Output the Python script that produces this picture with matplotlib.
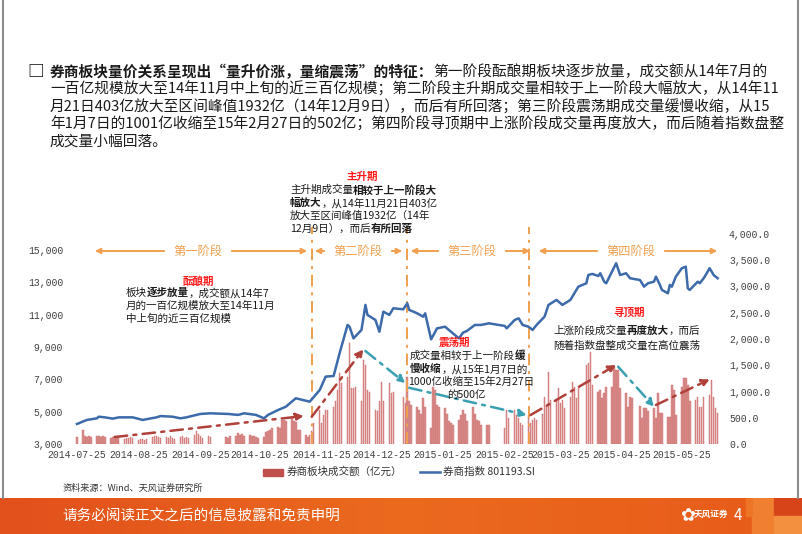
import matplotlib
matplotlib.use('Agg')
import matplotlib.pyplot as plt
import matplotlib.dates as mdates
import numpy as np
import pandas as pd
from matplotlib.patches import Rectangle, FancyArrowPatch
from matplotlib.lines import Line2D
from matplotlib.colors import LinearSegmentedColormap

# ---------------- data ----------------
holidays = ['2014-10-01', '2014-10-02', '2014-10-03', '2014-10-06', '2014-10-07',
            '2015-01-01', '2015-01-02',
            '2015-02-18', '2015-02-19', '2015-02-20', '2015-02-23', '2015-02-24',
            '2015-04-06', '2015-05-01']
trade_start, trade_end = '2014-07-25', '2015-06-12'

# 券商板块成交额（亿元）, one value per trading day (week by week)
volume = [140,
          270, 150, 140, 150, 130,
          150, 160, 130, 150, 140,
          120, 140, 150, 130, 150,
          100, 120, 110, 130, 110,
          80, 90, 100, 80, 90,
          130, 150, 160, 140, 120,
          130, 120, 150, 110, 100,
          130, 150, 120, 140, 110,
          180, 240, 200, 150, 120,
          150, 140,
          130, 120, 150,
          160, 210, 180, 200, 150,
          170, 150, 160, 140, 120,
          140, 230, 250, 260, 300,
          330, 300, 460, 450, 430,
          520, 430, 420, 270, 270,
          170, 140, 170, 250, 403,
          650, 400, 550, 650, 650,
          710, 810, 1030, 1350, 1160,
          1280, 1932, 1060, 1060, 1090,
          810, 1600, 1500, 1030, 1000,
          650, 620, 810, 1190, 810,
          1160, 970, 1000,
          900, 780, 1280, 810, 740,
          710, 650, 580, 870, 710,
          300, 1090, 1030, 740, 710,
          680, 580, 430, 400, 360,
          460, 550, 650, 580, 430,
          710, 580, 460, 430, 360,
          360, 370,
          300, 650, 502,
          650, 550, 490, 400, 360,
          550, 400, 460, 490, 460,
          580, 900, 720, 1380, 840,
          810, 1060, 775, 840, 680,
          900, 1190, 1090, 870, 1060,
          1505, 1537, 1759, 1120,
          1000, 1030, 870, 965, 1090,
          1090, 1473, 1410, 1410, 1060,
          965, 711, 900, 870,
          720, 490, 680, 680, 620,
          680, 490, 965, 584, 584,
          521, 521, 1120, 1030, 550,
          1090, 1250, 1250, 1120, 810,
          840, 900, 710, 710, 900,
          930, 1220, 900, 680, 600]

# 券商指数 801193.SI
index_dates = ['2014-07-25', '2014-07-30', '2014-08-04', '2014-08-05', '2014-08-08', '2014-08-12',
               '2014-08-15', '2014-08-22', '2014-08-27', '2014-09-03', '2014-09-05', '2014-09-11',
               '2014-09-15', '2014-09-18', '2014-09-23', '2014-09-25', '2014-09-30', '2014-10-09',
               '2014-10-14', '2014-10-17', '2014-10-23', '2014-10-27', '2014-10-29', '2014-11-03',
               '2014-11-07', '2014-11-12', '2014-11-19', '2014-11-24', '2014-11-27', '2014-12-01',
               '2014-12-04', '2014-12-08', '2014-12-09', '2014-12-11', '2014-12-15', '2014-12-17',
               '2014-12-18', '2014-12-22', '2014-12-24', '2014-12-26', '2014-12-29', '2014-12-31',
               '2015-01-05', '2015-01-07', '2015-01-08', '2015-01-12', '2015-01-15', '2015-01-16',
               '2015-01-19', '2015-01-22', '2015-01-26', '2015-01-29', '2015-02-02', '2015-02-04',
               '2015-02-06', '2015-02-10', '2015-02-13', '2015-02-17', '2015-02-25', '2015-02-26',
               '2015-03-02', '2015-03-04', '2015-03-06', '2015-03-09', '2015-03-11', '2015-03-13',
               '2015-03-17', '2015-03-19', '2015-03-23', '2015-03-26', '2015-03-30', '2015-04-01',
               '2015-04-03', '2015-04-07', '2015-04-08', '2015-04-10', '2015-04-13', '2015-04-14',
               '2015-04-16', '2015-04-17', '2015-04-22', '2015-04-24', '2015-04-27', '2015-04-29',
               '2015-05-04', '2015-05-06', '2015-05-08', '2015-05-11', '2015-05-12', '2015-05-14',
               '2015-05-15', '2015-05-18', '2015-05-19', '2015-05-20', '2015-05-22', '2015-05-25',
               '2015-05-27', '2015-05-28', '2015-05-29', '2015-06-02', '2015-06-03', '2015-06-05',
               '2015-06-08', '2015-06-10', '2015-06-12']
index_values = [4240, 4490, 4590, 4690, 4650, 4570,
                4650, 4650, 4490, 4650, 4730, 4690,
                4590, 4650, 4800, 4860, 4900, 4860,
                4800, 4900, 4800, 4590, 4800, 5100,
                5310, 5830, 5620, 6340, 7170, 7210,
                8620, 10370, 10260, 9540, 10060, 11610,
                10990, 10680, 9950, 11190, 10990, 11400,
                11340, 11710, 11300, 11090, 10880, 11090,
                9480, 10160, 10260, 9950, 9540, 9890,
                10000, 10370, 10370, 10470, 10310, 10160,
                10680, 10780, 10370, 10260, 10060, 10370,
                10880, 11610, 11920, 11610, 11920, 12330,
                12740, 12950, 13460, 13530, 13400, 13570,
                13050, 12950, 14190, 13460, 13570, 13260,
                13150, 12740, 12950, 13050, 13360, 12850,
                12540, 12330, 12850, 12740, 13360, 13880,
                13980, 12640, 12540, 13050, 12950, 13260,
                13880, 13460, 13260]

x_tick_dates = ['2014-07-25', '2014-08-25', '2014-09-25', '2014-10-25', '2014-11-25', '2014-12-25',
                '2015-01-25', '2015-02-25', '2015-03-25', '2015-04-25', '2015-05-25']
left_ticks = [3000, 5000, 7000, 9000, 11000, 13000, 15000]
right_ticks = [0, 500, 1000, 1500, 2000, 2500, 3000, 3500, 4000]
phase_names = ['第一阶段', '第二阶段', '第三阶段', '第四阶段']
phase_bounds = ['2014-11-20', '2015-01-07', '2015-03-09']

# ---------------- figure ----------------
W, H = 802, 534
CJK = ['Noto Sans CJK SC', 'DejaVu Sans']
plt.rcParams['font.family'] = CJK
fig = plt.figure(figsize=(W / 100, H / 100), dpi=100)


def fx(x):
    return x / W


def fy(y):
    return 1 - y / H


# slide frame
fig.add_artist(Line2D([fx(3), fx(3)], [fy(0), fy(498)], color='#8c8c8c', lw=1.5))
fig.add_artist(Line2D([fx(798), fx(798)], [fy(0), fy(498)], color='#8c8c8c', lw=1.5))

trade_days = pd.bdate_range(trade_start, trade_end)
trade_days = trade_days[~trade_days.isin(pd.to_datetime(holidays))]
tx = mdates.date2num(trade_days)
ix = mdates.date2num(pd.to_datetime(index_dates))
d0 = mdates.date2num(pd.Timestamp('2014-07-25'))

ax = fig.add_axes([fx(70), fy(444), fx(722) - fx(70), fy(234) - fy(444)])
ax2 = ax.twinx()

ax.bar(tx, volume, width=0.75, color='#DA8E8C', edgecolor='#CB6E6C', linewidth=0.3, zorder=2)
ax2.plot(ix, index_values, color='#3C6AAA', lw=1.8, zorder=3)

ax.set_xlim(d0 - 3.5, d0 + 324.2)
ax.set_ylim(0, 4000)
ax2.set_ylim(3000, 16000)
ax.yaxis.tick_right()
ax2.yaxis.tick_left()
ax.set_yticks(right_ticks)
ax.set_yticklabels([f'{v:,.1f}' for v in right_ticks])
ax2.set_yticks(left_ticks)
ax2.set_yticklabels([f'{v:,.0f}' for v in left_ticks])
ax.set_xticks(mdates.date2num(pd.to_datetime(x_tick_dates)))
ax.set_xticklabels(x_tick_dates)
mono = ['Liberation Mono', 'DejaVu Sans Mono']
for a in (ax, ax2):
    for s in a.spines.values():
        s.set_visible(False)
    a.tick_params(length=0, labelsize=7, colors='#404040', pad=5)
    for lab in a.get_xticklabels() + a.get_yticklabels():
        lab.set_family(mono)
ax.tick_params(axis='x', pad=4)
ax.patch.set_visible(False)


def dn(s):
    return mdates.date2num(pd.Timestamp(s))


# phase separators
ORANGE = '#F0A050'
for b in phase_bounds:
    xb = dn(b)
    ax.plot([xb, xb], [0, 4130], color=ORANGE, lw=1.4, ls=(0, (6, 3, 1.5, 3)), clip_on=False, zorder=4)

# trend arrows (right axis units)
RED = '#B0403A'
CYAN = '#3A9FB0'
trend_arrows = [
    ('2014-08-13', 133, '2014-11-16', 533, RED),
    ('2014-11-20', 520, '2014-12-16', 1804, RED),
    ('2014-12-17', 1771, '2015-01-06', 1162, CYAN),
    ('2015-01-08', 1070, '2015-03-08', 552, CYAN),
    ('2015-03-10', 552, '2015-04-22', 1505, RED),
    ('2015-04-23', 1472, '2015-05-11', 710, CYAN),
    ('2015-05-12', 743, '2015-06-08', 1232, RED),
]
for s, v0, e, v1, c in trend_arrows:
    ax.annotate('', xy=(dn(e), v1), xytext=(dn(s), v0),
                arrowprops=dict(arrowstyle='-|>', color=c, lw=1.8, ls=(0, (5, 2.5, 1.2, 2.5)),
                                mutation_scale=11, shrinkA=0, shrinkB=0), zorder=5)

# phase arrows and labels (pixel coordinates)
phase_layout = [(92, 310, 198), (312, 405, 358), (408, 533, 472), (536, 720, 631)]
for (x0, x1, xc), name in zip(phase_layout, phase_names):
    half = 31
    fig.text(fx(xc), fy(251), name, ha='center', va='center', fontsize=8.8, color=ORANGE)
    for a, b in ((xc - half, x0), (xc + half, x1)):
        fig.add_artist(FancyArrowPatch(
            (fx(a), fy(251)), (fx(b), fy(251)), transform=fig.transFigure,
            arrowstyle='-|>', mutation_scale=8, color=ORANGE, lw=1.4))

renderer = fig.canvas.get_renderer()


def rich(x, y, segs, size, ha='left', color='#1a1a1a'):
    objs = []
    for s, bold in segs:
        t = fig.text(0, 0, s, fontsize=size, fontweight='bold' if bold else 'normal',
                     color=color, va='center', ha='left')
        objs.append(t)
    widths = [t.get_window_extent(renderer).width for t in objs]
    x0 = x - sum(widths) / 2 if ha == 'center' else x
    for t, w in zip(objs, widths):
        t.set_position((fx(x0), fy(y)))
        x0 += w


# header
fig.text(fx(36), fy(72), '□', fontsize=12, fontweight='bold', ha='center', va='center', color='#111')
HS = 10.6
header_lines = [
    [('券商板块量价关系呈现出“量升价涨，量缩震荡”的特征：', True), ('第一阶段酝酿期板块逐步放量，成交额从14年7月的', False)],
    [('一百亿规模放大至14年11月中上旬的近三百亿规模；第二阶段主升期成交量相较于上一阶段大幅放大，从14年11', False)],
    [('月21日403亿放大至区间峰值1932亿（14年12月9日），而后有所回落；第三阶段震荡期成交量缓慢收缩，从15', False)],
    [('年1月7日的1001亿收缩至15年2月27日的502亿；第四阶段寻顶期中上涨阶段成交量再度放大，而后随着指数盘整', False)],
    [('成交量小幅回落。', False)],
]
for i, segs in enumerate(header_lines):
    rich(50, 72 + i * 17.5, segs, HS)

# annotation blocks
AS = 7.6
REDT = '#FF1A1A'
fig.text(fx(362), fy(177), '主升期', fontsize=7.6, fontweight='bold', color=REDT, ha='center', va='center')
rich(290, 190, [('主升期成交量', False), ('相较于上一阶段大', True)], AS)
rich(290, 203, [('幅放大', True), ('，从14年11月21日403亿', False)], AS)
rich(290, 216, [('放大至区间峰值1932亿（14年', False)], AS)
rich(290, 229, [('12月9日），而后', False), ('有所回落', True)], AS)

fig.text(fx(198), fy(281), '酝酿期', fontsize=7.6, fontweight='bold', color=REDT, ha='center', va='center')
rich(126, 293, [('板块', False), ('逐步放量', True), ('，成交额从14年7', False)], AS)
rich(126, 306, [('月的一百亿规模放大至14年11月', False)], AS)
rich(126, 319, [('中上旬的近三百亿规模', False)], AS)

fig.text(fx(455), fy(343), '震荡期', fontsize=7.6, fontweight='bold', color=REDT, ha='center', va='center')
rich(410, 356, [('成交量相较于上一阶段', False), ('缓', True)], AS)
rich(410, 369, [('慢收缩', True), ('，从15年1月7日的', False)], AS)
rich(408, 382, [('1000亿收缩至15年2月27日', False)], AS)
rich(466, 395, [('的500亿', False)], AS, ha='center')

fig.text(fx(629), fy(313), '寻顶期', fontsize=7.6, fontweight='bold', color=REDT, ha='center', va='center')
rich(553, 331, [('上涨阶段成交量', False), ('再度放大', True), ('，而后', False)], AS)
rich(553, 345, [('随着指数盘整成交量在高位震荡', False)], AS)

# legend
fig.add_artist(Rectangle((fx(263), fy(476)), fx(20), 7 / H, transform=fig.transFigure,
                         color='#C0504D'))
fig.text(fx(287), fy(472), '券商板块成交额（亿元）', fontsize=7.6, color='#333', va='center')
fig.add_artist(Line2D([fx(420), fx(440)], [fy(472), fy(472)], color='#3C6AAA', lw=1.8))
fig.text(fx(443), fy(472), '券商指数 801193.SI', fontsize=7.6, color='#333', va='center')

fig.text(fx(63), fy(488), '资料来源：Wind、天风证券研究所', fontsize=6.6, color='#333', va='center')

# bottom banner
bax = fig.add_axes([0, 0, 1, 36 / H])
bax.set_xlim(0, W)
bax.set_ylim(0, 36)
bax.axis('off')
grad = np.linspace(0, 1, 256)[None, :]
cmap = LinearSegmentedColormap.from_list('b', ['#E2501C', '#EB6A1E', '#E85A1A'])
bax.imshow(grad, extent=(0, W, 0, 36), aspect='auto', cmap=cmap)
for (x, y, w, h, c) in [(752, 0, 22, 36, '#F08030'), (774, 18, 28, 18, '#D8441A'),
                        (774, 0, 28, 18, '#F29040'), (746, 18, 6, 18, '#EE7428')]:
    bax.add_patch(Rectangle((x, y), w, h, color=c))
bax.text(62, 18, '请务必阅读正文之后的信息披露和免责申明', color='white', fontsize=10.5, va='center')
bax.text(680, 18, '✿', color='white', fontsize=13, va='center', family=['DejaVu Sans'])
bax.text(694, 20, '天风证券', color='white', fontsize=6.2, fontweight='bold', va='center')
bax.text(734, 19, '4', color='white', fontsize=11, va='center')

fig.savefig('out.png', dpi=100)
